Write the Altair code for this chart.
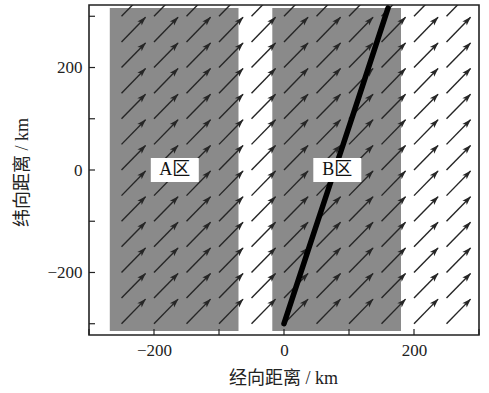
import altair as alt
import pandas as pd

# Wind vector grid (tail positions, km) and the uniform vector components (km per arrow)
col_x = [-250, -200, -150, -100, -50, 0, 50, 100, 150, 200, 250]
row_y = [-300, -250, -200, -150, -100, -50, 0, 50, 100, 150, 200, 250, 300]
wind_u = 37
wind_v = 48

# Shaded zones and their labels
zone_names = ["A区", "B区"]
zone_x0 = [-268, -18]
zone_x1 = [-70, 180]
zone_y0 = [-314, -314]
zone_y1 = [316, 316]
label_x = [-168, 82]
label_y = [0, 0]

# Narrow band running through zone B
band_x = [0, 43, 78, 114, 160]
band_y = [-300, -134, 0, 138, 316]

tick_values = [-300, -200, -100, 0, 100, 200, 300]

SERIF = "Liberation Serif, Noto Sans CJK SC"

vec_df = pd.DataFrame([{"x": x, "y": y} for y in row_y for x in col_x])
vec_df["u"] = wind_u
vec_df["v"] = wind_v
zone_df = pd.DataFrame({"name": zone_names, "x0": zone_x0, "x1": zone_x1,
                        "y0": zone_y0, "y1": zone_y1, "lx": label_x, "ly": label_y})
band_df = pd.DataFrame({"x": band_x, "y": band_y, "order": list(range(len(band_x)))})
tick_df = pd.DataFrame({"v": tick_values})

x_scale = alt.Scale(domain=[-300, 300], nice=False, zero=False)
y_scale = alt.Scale(domain=[-322, 322], nice=False, zero=False)

label_expr = "datum.value % 200 === 0 ? datum.label : ''"
x_axis = alt.Axis(values=tick_values, labelExpr=label_expr, title="经向距离 / km",
                  titleX=194, titleY=43, titleBaseline="middle", titleAlign="center",
                  labelPadding=7)
y_axis = alt.Axis(values=tick_values, labelExpr=label_expr, title="纬向距离 / km",
                  titleX=-67, titleY=167, titleBaseline="middle", titleAlign="center",
                  labelPadding=7)


def X(field):
    return alt.X(field, type="quantitative", scale=x_scale, axis=x_axis)


def Y(field):
    return alt.Y(field, type="quantitative", scale=y_scale, axis=y_axis)


zones = alt.Chart(zone_df).mark_rect(color="#8a8a8a").encode(
    x=X("x0"), x2="x1", y=Y("y0"), y2="y1"
)

shafts = alt.Chart(vec_df).transform_calculate(
    xe="datum.x + datum.u", ye="datum.y + datum.v"
).mark_rule(color="#262626", strokeWidth=1.4, clip=True).encode(
    x=X("x"), y=Y("y"), x2="xe:Q", y2="ye:Q"
)

heads = alt.Chart(vec_df).transform_calculate(
    hx="datum.x + 0.86 * datum.u", hy="datum.y + 0.86 * datum.v"
).mark_point(
    shape="M0,-1L0.55,0.7L0,0.3L-0.55,0.7Z", size=120, filled=True, opacity=1,
    color="#262626", angle=44, clip=True
).encode(x=X("hx:Q"), y=Y("hy:Q"))

band = alt.Chart(band_df).mark_line(
    color="#000000", strokeWidth=5.5, strokeCap="round", strokeJoin="round", clip=True
).encode(x=X("x"), y=Y("y"), order="order:Q")

boxes = alt.Chart(zone_df).mark_point(
    shape="M-1,-0.5H1V0.5H-1Z", size=2304, filled=True, opacity=1, color="white"
).encode(x=X("lx"), y=Y("ly"))

labels = alt.Chart(zone_df).mark_text(
    font=SERIF, fontSize=18, color="#111111", baseline="middle", align="center"
).encode(x=X("lx"), y=Y("ly"), text="name:N")

x_ticks = alt.Chart(tick_df).mark_rule(color="#222222", strokeWidth=1.2).encode(
    x=X("v"), y=alt.value(330), y2=alt.value(324)
)
y_ticks = alt.Chart(tick_df).mark_rule(color="#222222", strokeWidth=1.2).encode(
    y=Y("v"), x=alt.value(0), x2=alt.value(6)
)

chart = alt.layer(zones, shafts, heads, band, boxes, labels, x_ticks, y_ticks).properties(
    width=390, height=330,
    autosize=alt.AutoSizeParams(type="none"),
    padding={"left": 89, "top": 5, "right": 10, "bottom": 58},
).configure_view(
    stroke="#222222", strokeWidth=1.6
).configure_axis(
    domain=False, ticks=False, grid=False,
    labelFont=SERIF, labelFontSize=17, labelColor="#222222",
    titleFont=SERIF, titleFontSize=18, titleFontWeight="normal", titleColor="#222222",
)

chart.save("out.html", embed_options={"renderer": "svg", "actions": False})
